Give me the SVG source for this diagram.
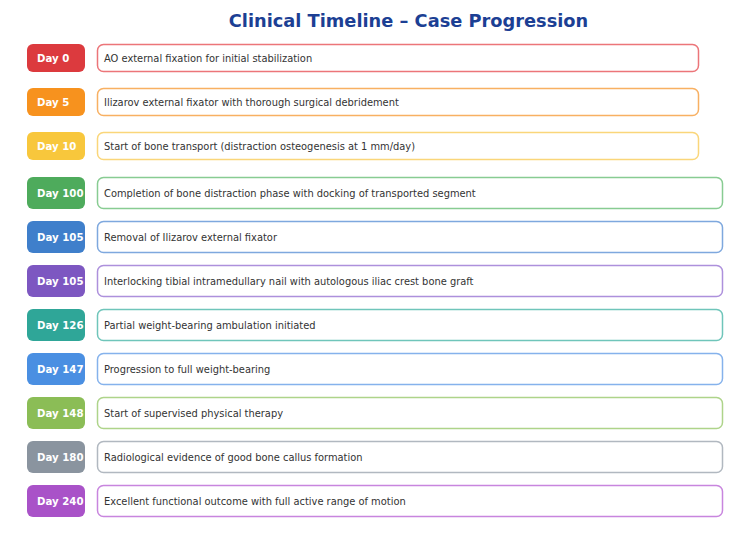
<svg xmlns="http://www.w3.org/2000/svg" width="750" height="535" viewBox="0 0 750 535">
<style>
.title{font-family:"DejaVu Sans",sans-serif;font-weight:bold;font-size:17.8px;fill:#1c3f94;text-anchor:middle}
.bt{font-family:"DejaVu Sans",sans-serif;font-weight:bold;font-size:10.2px;fill:#ffffff}
.tx{font-family:"DejaVu Sans",sans-serif;font-size:9.9px;fill:#333333}
.box{fill:#ffffff;stroke-width:1.5}
</style>
<rect width="750" height="535" fill="#ffffff"/>
<text class="title" x="408.5" y="27">Clinical Timeline – Case Progression</text>
<g id="connectors"></g>
<g id="n0"><rect x="27" y="44" width="58" height="28" rx="6" fill="#dc3a3e"/><text class="bt" x="37" y="61.5">Day 0</text><rect class="box" x="97.5" y="44.5" width="601" height="27" rx="6" stroke="#ec7579"/><text class="tx" x="104" y="61.5">AO external fixation for initial stabilization</text></g>
<g id="n1"><rect x="27" y="88" width="58" height="28" rx="6" fill="#f7921e"/><text class="bt" x="37" y="105.5">Day 5</text><rect class="box" x="97.5" y="88.5" width="601" height="27" rx="6" stroke="#f8b062"/><text class="tx" x="104" y="105.5">Ilizarov external fixator with thorough surgical debridement</text></g>
<g id="n2"><rect x="27" y="132" width="58" height="28" rx="6" fill="#f8c73c"/><text class="bt" x="37" y="149.5">Day 10</text><rect class="box" x="97.5" y="132.5" width="601" height="27" rx="6" stroke="#fad67a"/><text class="tx" x="104" y="149.5">Start of bone transport (distraction osteogenesis at 1 mm/day)</text></g>
<g id="n3"><rect x="27" y="177" width="58" height="32" rx="6" fill="#4eab5c"/><text class="bt" x="37" y="196.5">Day 100</text><rect class="box" x="97.5" y="177.5" width="625" height="31" rx="6" stroke="#88cc92"/><text class="tx" x="104" y="196.5">Completion of bone distraction phase with docking of transported segment</text></g>
<g id="n4"><rect x="27" y="221" width="58" height="32" rx="6" fill="#3f7fcb"/><text class="bt" x="37" y="240.5">Day 105</text><rect class="box" x="97.5" y="221.5" width="625" height="31" rx="6" stroke="#7ea8de"/><text class="tx" x="104" y="240.5">Removal of Ilizarov external fixator</text></g>
<g id="n5"><rect x="27" y="265" width="58" height="32" rx="6" fill="#7d57c1"/><text class="bt" x="37" y="284.5">Day 105</text><rect class="box" x="97.5" y="265.5" width="625" height="31" rx="6" stroke="#ad90dc"/><text class="tx" x="104" y="284.5">Interlocking tibial intramedullary nail with autologous iliac crest bone graft</text></g>
<g id="n6"><rect x="27" y="309" width="58" height="32" rx="6" fill="#2fa698"/><text class="bt" x="37" y="328.5">Day 126</text><rect class="box" x="97.5" y="309.5" width="625" height="31" rx="6" stroke="#6fc5ba"/><text class="tx" x="104" y="328.5">Partial weight-bearing ambulation initiated</text></g>
<g id="n7"><rect x="27" y="353" width="58" height="32" rx="6" fill="#4a8fe2"/><text class="bt" x="37" y="372.5">Day 147</text><rect class="box" x="97.5" y="353.5" width="625" height="31" rx="6" stroke="#85b2ec"/><text class="tx" x="104" y="372.5">Progression to full weight-bearing</text></g>
<g id="n8"><rect x="27" y="397" width="58" height="32" rx="6" fill="#8bbd56"/><text class="bt" x="37" y="416.5">Day 148</text><rect class="box" x="97.5" y="397.5" width="625" height="31" rx="6" stroke="#aed48a"/><text class="tx" x="104" y="416.5">Start of supervised physical therapy</text></g>
<g id="n9"><rect x="27" y="441" width="58" height="32" rx="6" fill="#8a949f"/><text class="bt" x="37" y="460.5">Day 180</text><rect class="box" x="97.5" y="441.5" width="625" height="31" rx="6" stroke="#b1b8c0"/><text class="tx" x="104" y="460.5">Radiological evidence of good bone callus formation</text></g>
<g id="n10"><rect x="27" y="485" width="58" height="32" rx="6" fill="#a952c8"/><text class="bt" x="37" y="504.5">Day 240</text><rect class="box" x="97.5" y="485.5" width="625" height="31" rx="6" stroke="#c885de"/><text class="tx" x="104" y="504.5">Excellent functional outcome with full active range of motion</text></g>
</svg>
